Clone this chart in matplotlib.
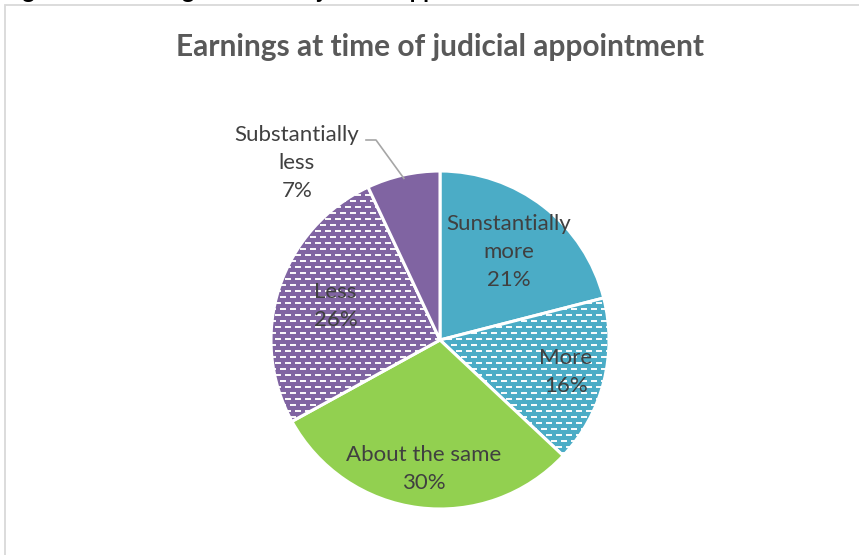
import numpy as np
import matplotlib
matplotlib.use("Agg")
import matplotlib.pyplot as plt
from matplotlib.patches import Rectangle

# data
categories = ["Sunstantially\nmore", "More", "About the same", "Less", "Substantially\nless"]
shares = [21, 16, 30, 26, 7]
colors = ["#4BACC6", "#4BACC6", "#92D050", "#8064A2", "#8064A2"]
patterned = [False, True, False, True, False]
label_dist = [0.66, 0.77, 0.77, 0.65, None]

W, H = 859, 555
cx, cy, R = 440, 215, 169   # pie centre (px from bottom-left) and radius

plt.rcParams['font.family'] = ['Lato', 'DejaVu Sans']
fig = plt.figure(figsize=(W / 100, H / 100), dpi=100)
fig.patch.set_facecolor("white")

# chart area border (cut off on the right and bottom)
fig.patches.append(Rectangle((5 / W, -0.1), 2, (H - 5) / H + 0.1, transform=fig.transFigure,
                             fill=False, edgecolor="#D9D9D9", linewidth=1.3))
# cropped caption above the chart
fig.text(3 / W, 1 + 2.5 / H, "Figure 12: Earnings at time of judicial appointment",
         fontsize=17, fontweight="bold", color="black", va="baseline", ha="left")

ax = fig.add_axes([0, 0, 1, 1])
wedges, _ = ax.pie(shares, colors=colors, startangle=90, counterclock=False, radius=1,
                   center=(0, 0), frame=True,
                   wedgeprops=dict(edgecolor="white", linewidth=2.2))
ax.set_xlim(-cx / R, (W - cx) / R)
ax.set_ylim(-cy / R, (H - cy) / R)
ax.set_aspect("auto")
ax.axis("off")

# small white dash pattern for the patterned slices
n = 400
pat = np.zeros((n, n, 4))
for r in range(n):
    row = r // 6
    if r % 6 in (0, 1):
        off = 5 if row % 2 else 0
        for c in range(n):
            if (c + off) % 10 < 6:
                pat[r, c] = [1, 1, 1, 0.95]
ext = n / 2 / R
for w, p in zip(wedges, patterned):
    if p:
        im = ax.imshow(pat, extent=[-ext, ext, -ext, ext], interpolation="nearest",
                       zorder=3, aspect="auto")
        im.set_clip_path(w)

# labels
tcol = "#404040"
fs = 16
ls = 1.5
for w, lab, s, d in zip(wedges, categories, shares, label_dist):
    mid = np.deg2rad((w.theta1 + w.theta2) / 2)
    if d is not None:
        ax.text(d * np.cos(mid), d * np.sin(mid), f"{lab}\n{s}%", ha="center", va="center",
                fontsize=fs, color=tcol, linespacing=ls, zorder=5)
    else:
        tx, ty = (297 - cx) / R, (H - 163 - cy) / R
        ax.text(tx, ty, f"{lab}\n{s}%", ha="center", va="center", fontsize=fs,
                color=tcol, linespacing=ls, zorder=5)
        ex, ey = 0.98 * np.cos(mid), 0.98 * np.sin(mid)
        kx, ky = (376 - cx) / R, (H - 140 - cy) / R
        ax.plot([(366 - cx) / R, kx, ex], [ky, ky, ey], color="#A6A6A6", lw=1.2, zorder=4)

fig.text(440 / W, 1 - 47 / H, "Earnings at time of judicial appointment", ha="center",
         va="center", fontsize=21.5, fontweight="bold", color="#595959")

fig.savefig("out.png", dpi=100, facecolor="white")
